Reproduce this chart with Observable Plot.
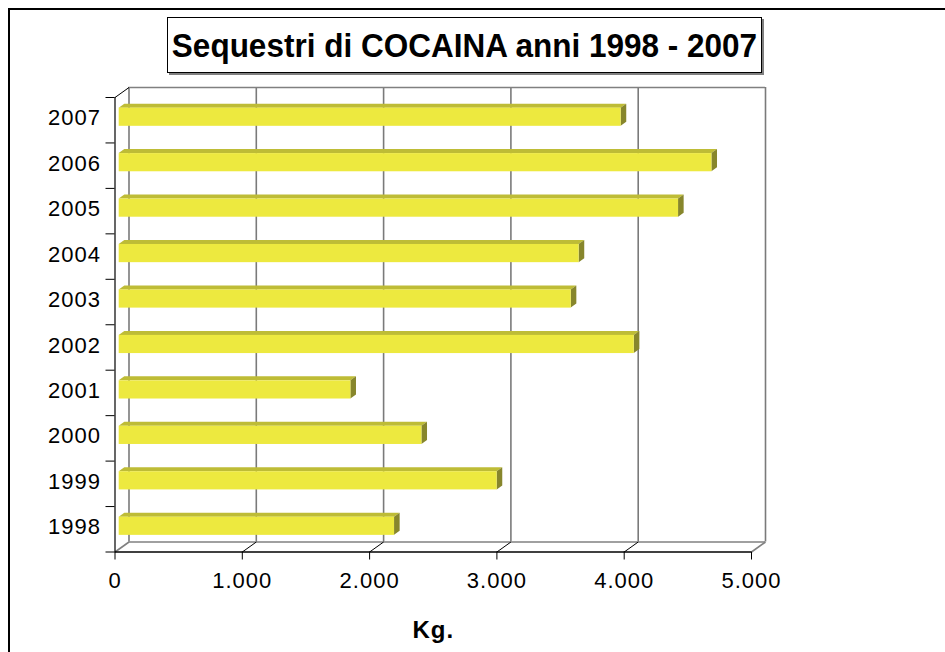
<!DOCTYPE html>
<html>
<head>
<meta charset="utf-8">
<script src="https://cdn.jsdelivr.net/npm/d3@7"></script>
<script src="https://cdn.jsdelivr.net/npm/@observablehq/plot@0.6"></script>
<style>
  html, body { margin: 0; padding: 0; background: #fff; overflow: hidden; }
  #wrap { position: relative; width: 945px; height: 652px; overflow: hidden; }
  #frame { position: absolute; left: 8px; top: 8px; width: 1000px; height: 700px;
           border-left: 2px solid #000; border-top: 2px solid #000; box-sizing: border-box; }
  #title { position: absolute; left: 167px; top: 17px; width: 595px; height: 56px;
           border: 1px solid #000; box-shadow: 2px 2px 0 #808080; box-sizing: border-box;
           background: #fff; display: flex; align-items: center; justify-content: center;
           font-family: "Liberation Sans", Arial, sans-serif; font-weight: bold; font-size: 31.5px;
           color: #000; white-space: nowrap; z-index: 2; }
  #title span { display: inline-block; transform: scaleY(1.08); }
  #chart { position: absolute; left: 0; top: 0; }
</style>
</head>
<body>
<div id="wrap">
  <div id="frame"></div>
  <div id="chart"></div>
  <div id="title"><span></span></div>
</div>
<script>
// ---- data ----
const years = [1998, 1999, 2000, 2001, 2002, 2003, 2004, 2005, 2006, 2007];
const kg    = [2163, 2969, 2378, 1820, 4046, 3551, 3613, 4394, 4656, 3943];
const xTicks = [0, 1000, 2000, 3000, 4000, 5000];
const xTickLabels = ["0", "1.000", "2.000", "3.000", "4.000", "5.000"];
const titleText = "Sequestri di COCAINA anni 1998 - 2007";
const xLabel = "Kg.";

document.querySelector("#title span").textContent = titleText;

// ---- layout (pixels) ----
const W = 945, H = 652;
const X0 = 114.5, X1 = 751, YTOP = 97, YBOT = 551.5;
const xDomain = [0, 5000];
const yDomain = [years[0] - 0.5, years[years.length - 1] + 0.5];
const KG_PER_PX = (xDomain[1] - xDomain[0]) / (X1 - X0);
const YR_PER_PX = (yDomain[1] - yDomain[0]) / (YBOT - YTOP);
// depth of the 3D box, in data units
const DXK = 14 * KG_PER_PX, DYY = 10 * YR_PER_PX;
const Z0 = 0.3, Z1 = 0.7, HALF = 0.2;
const lo = yDomain[0], hi = yDomain[1];

const bars = years.map((y, i) => ({year: y, v: kg[i]}));
const front = bars.map(d => ({
  x1: Z0 * DXK, x2: d.v + Z0 * DXK,
  y1: d.year - HALF + Z0 * DYY, y2: d.year + HALF + Z0 * DYY
}));
const topFace = bars.flatMap(d => [
  {id: d.year, y: d.year + HALF + Z0 * DYY, x1: Z0 * DXK, x2: d.v + Z0 * DXK},
  {id: d.year, y: d.year + HALF + Z1 * DYY, x1: Z1 * DXK, x2: d.v + Z1 * DXK}
]);
const sideFace = bars.flatMap(d => [
  {id: d.year, x: d.v + Z0 * DXK, y1: d.year - HALF + Z0 * DYY, y2: d.year + HALF + Z0 * DYY},
  {id: d.year, x: d.v + Z1 * DXK, y1: d.year - HALF + Z1 * DYY, y2: d.year + HALF + Z1 * DYY}
]);
const boundaries = d3.range(lo, hi + 0.01, 1);
const innerTicks = xTicks.slice(1, -1);
const edgeTicks = [xTicks[0], xTicks[xTicks.length - 1]];
const font = "'Liberation Sans', Arial, sans-serif";

const chart = Plot.plot({
  width: W, height: H,
  marginLeft: X0, marginRight: W - X1, marginTop: YTOP, marginBottom: H - YBOT,
  x: {domain: xDomain, axis: null},
  y: {domain: yDomain, axis: null},
  style: {background: "transparent", overflow: "visible", fontFamily: font},
  marks: [
    // back wall gridlines
    Plot.ruleX(xTicks, {x: t => t + DXK, y1: lo + DYY, y2: hi + DYY, stroke: "#7a7a7a", strokeWidth: 1.6}),
    // back top edge & back floor edge
    Plot.ruleY([hi], {y: d => d + DYY, x1: DXK, x2: xDomain[1] + DXK, stroke: "#808080", strokeWidth: 1.6}),
    Plot.ruleY([lo], {y: d => d + DYY, x1: DXK, x2: xDomain[1] + DXK, stroke: "#808080", strokeWidth: 1.6}),
    // floor diagonals
    Plot.link(edgeTicks, {x1: t => t, y1: lo, x2: t => t + DXK, y2: lo + DYY, stroke: "#808080", strokeWidth: 1.6}),
    Plot.link(innerTicks, {x1: t => t, y1: lo, x2: t => t + DXK, y2: lo + DYY, stroke: "#000", strokeWidth: 1}),
    // top-left diagonal
    Plot.link([0], {x1: t => t, y1: hi, x2: t => t + DXK, y2: hi + DYY, stroke: "#000", strokeWidth: 1}),
    // bars
    Plot.areaX(topFace, {y: "y", x1: "x1", x2: "x2", z: "id", fill: "#BEBC36"}),
    Plot.areaY(sideFace, {x: "x", y1: "y1", y2: "y2", z: "id", fill: "#87862C"}),
    Plot.rect(front, {x1: "x1", x2: "x2", y1: "y1", y2: "y2", fill: "#EDE93F"}),
    // front axes
    Plot.ruleX([0], {x: d => d, y1: lo, y2: hi, stroke: "#000", strokeWidth: 1.2}),
    Plot.ruleY([lo], {y: d => d, x1: xDomain[0], x2: xDomain[1], stroke: "#000", strokeWidth: 1.4}),
    Plot.ruleX(xTicks, {x: t => t, y1: lo, y2: lo - 8 * YR_PER_PX, stroke: "#000", strokeWidth: 1}),
    Plot.ruleY(boundaries, {y: d => d, x1: -9 * KG_PER_PX, x2: 0, stroke: "#000", strokeWidth: 1}),
    // labels
    Plot.text(years, {x: 0, y: d => d, dx: -14, dy: -2, text: d => String(d), textAnchor: "end",
      fontSize: 22, fill: "#000"}),
    Plot.text(xTicks, {x: t => t, y: lo, dy: 29, text: (t, i) => xTickLabels[i], textAnchor: "middle",
      fontSize: 22, fill: "#000"}),
    Plot.text([xLabel], {x: (xDomain[0] + xDomain[1]) / 2, y: lo, dy: 78, text: d => d,
      fontSize: 24, fontWeight: "bold", fill: "#000"})
  ]
});
chart.querySelectorAll("text").forEach(t => t.style.letterSpacing = "1px");
document.getElementById("chart").appendChild(chart);
</script>
</body>
</html>
